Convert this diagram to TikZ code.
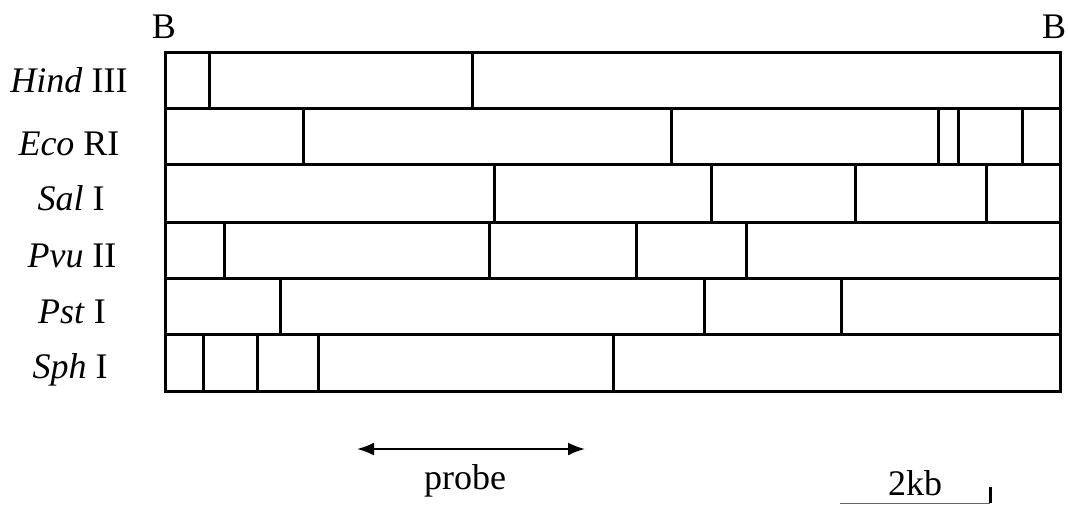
\documentclass[tikz,border=0pt]{standalone}
\usepackage{fontspec}
\setmainfont{Liberation Serif}
\usetikzlibrary{arrows.meta}
\begin{document}
\begin{tikzpicture}[x=0.5pt,y=-0.5pt,line width=1.5pt,
		every node/.style={inner sep=0pt,font=\fontsize{18}{22}\selectfont}]
			\useasboundingbox (0,0) rectangle (1068,504);
			% the strip and its rows
			\draw (165,52) rectangle (1060,391);
			\foreach \y in {108,164,222,278,334} \draw (165,\y) -- (1060,\y);
			% cut sites, one row each
			\foreach \x in {209,472} \draw (\x,52) -- (\x,108);
			\foreach \x in {303,671,938,958,1022} \draw (\x,108) -- (\x,164);
			\foreach \x in {494,711,855,986} \draw (\x,164) -- (\x,222);
			\foreach \x in {224,489,636,746} \draw (\x,222) -- (\x,278);
			\foreach \x in {280,704,841} \draw (\x,278) -- (\x,334);
			\foreach \x in {203,257,318,613} \draw (\x,334) -- (\x,391);
			% enzymes
			\node [anchor=base] (hind) at (69,92) {\textit{Hind} III};
			\node [anchor=base] (eco) at (69,155) {\textit{Eco} RI};
			\node [anchor=base] (sal) at (71,210) {\textit{Sal} I};
			\node [anchor=base] (pvu) at (72,267) {\textit{Pvu} II};
			\node [anchor=base] (pst) at (72,323) {\textit{Pst} I};
			\node [anchor=base] (sph) at (70,378) {\textit{Sph} I};
			\node [anchor=base] (bleft) at (164,38) {B};
			\node [anchor=base] (bright) at (1054,38) {B};
			% probe
			\coordinate (probeL) at (357,449);
			\coordinate (probeR) at (585,449);
			\draw [line width=1pt,{Latex[length=8.5pt,width=6.5pt]}-{Latex[length=8.5pt,width=6.5pt]}] (probeL) -- (probeR);
			\node [anchor=base] (probe) at (465,489) {probe};
			% scale bar
			\coordinate (barL) at (840,503);
			\coordinate (barR) at (990,503);
			\draw [line width=0.4pt,black!60] (barL) -- (barR);
			\draw (barR) -- ++(0,-16);
			\node [anchor=base] (kb) at (915,495) {2kb};
		\end{tikzpicture}
\end{document}
